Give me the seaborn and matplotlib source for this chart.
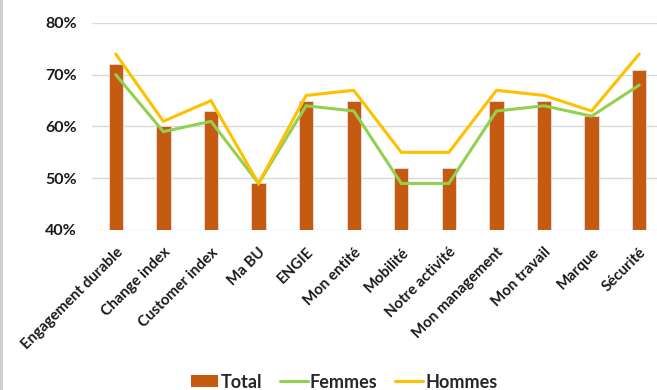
import matplotlib
matplotlib.use("Agg")
import matplotlib.pyplot as plt
from matplotlib.patches import Patch, Rectangle
from matplotlib.lines import Line2D
from matplotlib.ticker import FuncFormatter
import seaborn as sns
import pandas as pd

categories = ["Engagement durable", "Change index", "Customer index", "Ma BU", "ENGIE",
              "Mon entité", "Mobilité", "Notre activité", "Mon management", "Mon travail",
              "Marque", "Sécurité"]
total = [72, 60, 63, 49, 65, 65, 52, 52, 65, 65, 62, 71]
femmes = [70, 59, 61, 49, 64, 63, 49, 49, 63, 64, 62, 68]
hommes = [74, 61, 65, 49, 66, 67, 55, 55, 67, 66, 63, 74]
yticks = [40, 50, 60, 70, 80]

C_TOTAL = "#C55A11"
C_FEM = "#92D050"
C_HOM = "#FFC000"

sns.set_theme(style="white")
plt.rcParams["font.family"] = ["Lato", "DejaVu Sans"]
plt.rcParams["font.weight"] = "bold"

df = pd.DataFrame({"cat": categories, "Total": total, "Femmes": femmes, "Hommes": hommes})

fig = plt.figure(figsize=(6.57, 3.90), dpi=100)
W, H = 657, 390
ax = fig.add_axes([92 / W, 1 - 230 / H, (663 - 92) / W, (230 - 23) / H])

sns.barplot(data=df, x="cat", y="Total", color=C_TOTAL, width=0.3, saturation=1,
            edgecolor="#E6E0EA", linewidth=0.6, ax=ax, zorder=2)
ax.plot(range(len(categories)), df["Femmes"], color=C_FEM, lw=2.2, zorder=3,
        solid_joinstyle="miter")
ax.plot(range(len(categories)), df["Hommes"], color=C_HOM, lw=2.2, zorder=3,
        solid_joinstyle="miter")

ax.set_ylim(40, 80)
ax.set_xlim(-0.5, len(categories) - 0.5)
ax.set_yticks(yticks)
ax.yaxis.set_major_formatter(FuncFormatter(lambda v, p: f"{v:.0f}%"))
ax.grid(axis="y", color="#D9D9D9", lw=1.0, zorder=0)
ax.grid(axis="x", visible=False)
ax.set_axisbelow(True)
for s in ax.spines.values():
    s.set_visible(False)
ax.set_xlabel("")
ax.set_ylabel("")
ax.tick_params(axis="both", length=0, labelsize=11.5, colors="#1a1a1a")
ax.tick_params(axis="y", pad=11)
ax.tick_params(axis="x", pad=11)
for lab in ax.get_yticklabels():
    lab.set_fontweight("bold")
ax.set_xticks(range(len(categories)))
ax.set_xticklabels(categories, rotation=45, ha="right", rotation_mode="anchor",
                   fontweight="bold", fontsize=10.8)

handles = [Patch(facecolor=C_TOTAL, edgecolor="none"),
           Line2D([], [], color=C_FEM, lw=2.2),
           Line2D([], [], color=C_HOM, lw=2.2)]
fig.legend(handles, ["Total", "Femmes", "Hommes"], loc="center", bbox_to_anchor=(344 / W, 1 - 382 / H),
           ncol=3, frameon=False, prop={"weight": "bold", "size": 13},
           handlelength=1.55, handleheight=0.6, handletextpad=0.1, columnspacing=1.0)

fig.add_artist(Rectangle((0, 0), 3 / W, 1, transform=fig.transFigure,
                         facecolor="#CFCFCF", edgecolor="none"))

fig.savefig("out.png", dpi=100)
